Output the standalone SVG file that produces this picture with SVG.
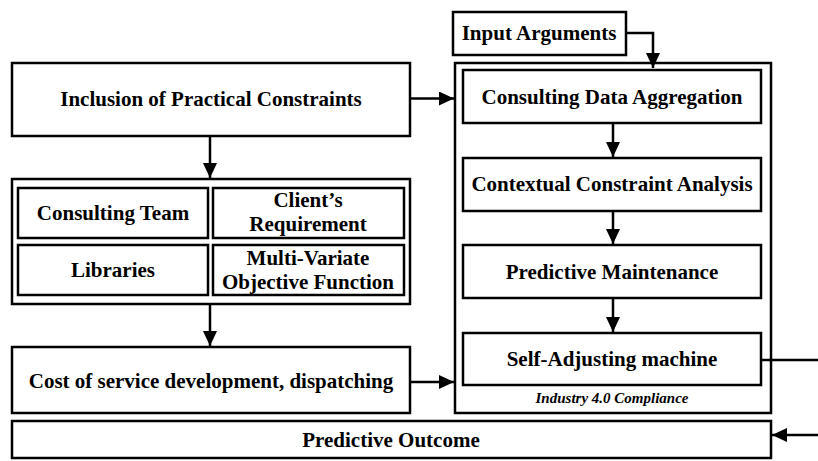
<svg xmlns="http://www.w3.org/2000/svg" width="818" height="461" viewBox="0 0 818 461">
<defs>
<marker id="ah" markerWidth="15" markerHeight="14" refX="15" refY="7" orient="auto" markerUnits="userSpaceOnUse" viewBox="0 0 15 14">
<path d="M0,0 L15,7 L0,14 z" fill="#000"/>
</marker>
</defs>
<rect width="818" height="461" fill="#fff"/>
<g fill="#fff" stroke="#000" stroke-width="2.5">
<g id="inclusion"><rect x="12" y="63" width="398" height="73"/><text x="211" y="106" font-family="Liberation Serif" font-weight="bold" font-size="21" text-anchor="middle" fill="#000" stroke="none">Inclusion of Practical Constraints</text></g>
<g id="factors"><rect x="12" y="179" width="398" height="125"/></g>
<g id="team"><rect x="18" y="188" width="190" height="50"/><text x="113" y="220" font-family="Liberation Serif" font-weight="bold" font-size="21" text-anchor="middle" fill="#000" stroke="none">Consulting Team</text></g>
<g id="client"><rect x="213" y="188" width="191" height="50"/><text x="308" y="207" font-family="Liberation Serif" font-weight="bold" font-size="21" text-anchor="middle" fill="#000" stroke="none">Client’s</text><text x="308" y="231" font-family="Liberation Serif" font-weight="bold" font-size="21" text-anchor="middle" fill="#000" stroke="none">Requirement</text></g>
<g id="libraries"><rect x="18" y="245" width="190" height="50"/><text x="113" y="277" font-family="Liberation Serif" font-weight="bold" font-size="21" text-anchor="middle" fill="#000" stroke="none">Libraries</text></g>
<g id="mvof"><rect x="213" y="245" width="191" height="50"/><text x="308" y="265" font-family="Liberation Serif" font-weight="bold" font-size="21" text-anchor="middle" fill="#000" stroke="none">Multi-Variate</text><text x="308" y="289" font-family="Liberation Serif" font-weight="bold" font-size="21" text-anchor="middle" fill="#000" stroke="none">Objective Function</text></g>
<g id="cost"><rect x="12" y="347" width="398" height="66"/><text x="211" y="388" font-family="Liberation Serif" font-weight="bold" font-size="21" text-anchor="middle" fill="#000" stroke="none">Cost of service development, dispatching</text></g>
<g id="input"><rect x="453" y="12" width="173" height="43"/><text x="539" y="40" font-family="Liberation Serif" font-weight="bold" font-size="21" text-anchor="middle" fill="#000" stroke="none">Input Arguments</text></g>
<g id="industry"><rect x="455" y="63" width="316" height="350"/><text x="612" y="403" font-family="Liberation Serif" font-weight="bold" font-style="italic" font-size="15" text-anchor="middle" fill="#000" stroke="none">Industry 4.0 Compliance</text></g>
<g id="cda"><rect x="463" y="70" width="298" height="53"/><text x="612" y="104" font-family="Liberation Serif" font-weight="bold" font-size="21" text-anchor="middle" fill="#000" stroke="none">Consulting Data Aggregation</text></g>
<g id="cca"><rect x="463" y="158" width="298" height="53"/><text x="612" y="191" font-family="Liberation Serif" font-weight="bold" font-size="21" text-anchor="middle" fill="#000" stroke="none">Contextual Constraint Analysis</text></g>
<g id="pm"><rect x="463" y="245" width="298" height="53"/><text x="612" y="279" font-family="Liberation Serif" font-weight="bold" font-size="21" text-anchor="middle" fill="#000" stroke="none">Predictive Maintenance</text></g>
<g id="sam"><rect x="463" y="333" width="298" height="52"/><text x="612" y="366" font-family="Liberation Serif" font-weight="bold" font-size="21" text-anchor="middle" fill="#000" stroke="none">Self-Adjusting machine</text></g>
<g id="outcome"><rect x="12" y="421" width="759" height="37"/><text x="391" y="447" font-family="Liberation Serif" font-weight="bold" font-size="21" text-anchor="middle" fill="#000" stroke="none">Predictive Outcome</text></g>
</g>
<g id="connectors" fill="none" stroke="#000" stroke-width="2.5">
<path d="M210,136 V178" marker-end="url(#ah)"/>
<path d="M210,304 V346" marker-end="url(#ah)"/>
<path d="M410,98.5 H454" marker-end="url(#ah)"/>
<path d="M410,382 H454" marker-end="url(#ah)"/>
<path d="M626,33 H653 V68" marker-end="url(#ah)"/>
<path d="M613,123 V157" marker-end="url(#ah)"/>
<path d="M613,211 V244" marker-end="url(#ah)"/>
<path d="M613,298 V332" marker-end="url(#ah)"/>
<path d="M761,360 H818"/>
<path d="M818,435 H772" marker-end="url(#ah)"/>
</g>
</svg>
